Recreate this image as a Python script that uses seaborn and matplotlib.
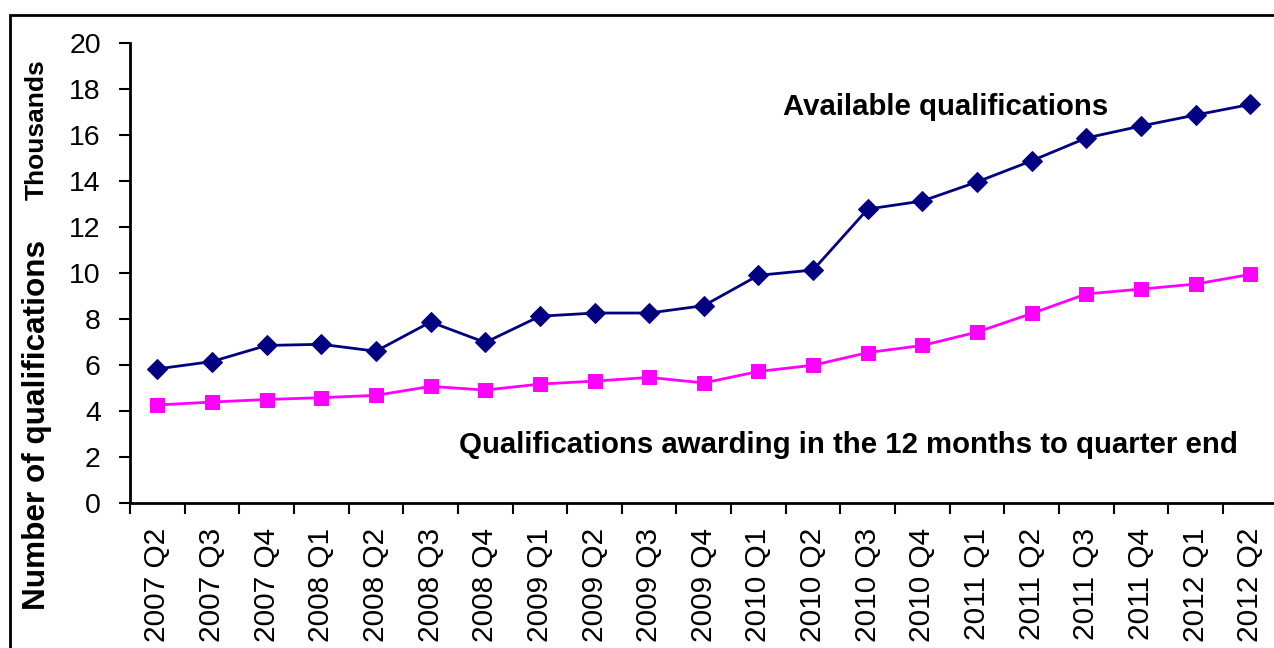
import matplotlib
matplotlib.use("Agg")
import matplotlib.pyplot as plt
import seaborn as sns
import pandas as pd
from matplotlib.patches import Rectangle
from matplotlib.ticker import FixedLocator, NullFormatter

quarters = ["2007 Q2", "2007 Q3", "2007 Q4", "2008 Q1", "2008 Q2", "2008 Q3", "2008 Q4",
            "2009 Q1", "2009 Q2", "2009 Q3", "2009 Q4", "2010 Q1", "2010 Q2", "2010 Q3",
            "2010 Q4", "2011 Q1", "2011 Q2", "2011 Q3", "2011 Q4", "2012 Q1", "2012 Q2"]
available = [5.83, 6.15, 6.85, 6.9, 6.6, 7.87, 6.98, 8.12, 8.26, 8.26, 8.58, 9.9, 10.13,
             12.78, 13.13, 13.96, 14.88, 15.87, 16.39, 16.87, 17.33]
awarding = [4.26, 4.39, 4.5, 4.58, 4.68, 5.07, 4.91, 5.17, 5.3, 5.46, 5.22, 5.72, 5.99,
            6.54, 6.85, 7.43, 8.24, 9.09, 9.3, 9.52, 9.94]
yticks = [0, 2, 4, 6, 8, 10, 12, 14, 16, 18, 20]

sns.set_theme(style="white")
plt.rcParams["font.family"] = ["Liberation Sans", "DejaVu Sans"]
plt.rcParams["text.color"] = "black"
plt.rcParams["xtick.color"] = "black"
plt.rcParams["ytick.color"] = "black"
plt.rcParams["axes.labelcolor"] = "black"

fig = plt.figure(figsize=(12.74, 6.48), dpi=100)
W, H = 1274, 648
ax = fig.add_axes([130 / W, (H - 503) / H, 21 * 54.65 / W, (503 - 43) / H])

df_a = pd.DataFrame({"quarter": quarters, "value": available})
df_b = pd.DataFrame({"quarter": quarters, "value": awarding})
sns.lineplot(data=df_a, x="quarter", y="value", ax=ax, color="#000080", lw=2,
             marker="D", markersize=10.5, markeredgecolor="#000080", sort=False)
sns.lineplot(data=df_b, x="quarter", y="value", ax=ax, color="#FF00FF", lw=2,
             marker="s", markersize=10.5, markeredgecolor="#FF00FF", sort=False)

ax.set_xlim(-0.5, len(quarters) - 0.5)
ax.set_ylim(0, 20)
ax.set_yticks(yticks)
ax.set_yticklabels([str(v) for v in yticks], fontsize=20.5, color="black")
ax.set_xticks(range(len(quarters)))
ax.set_xticklabels(quarters, rotation=90, fontsize=21.5, color="black")
ax.xaxis.set_minor_locator(FixedLocator([i - 0.5 for i in range(len(quarters) + 1)]))
ax.xaxis.set_minor_formatter(NullFormatter())
ax.tick_params(axis="x", which="major", length=0, pad=18)
ax.tick_params(axis="x", which="minor", length=8, width=1.5, color="black", direction="out", bottom=True)
ax.tick_params(axis="y", which="major", length=8, width=1.5, color="black", direction="out", left=True, pad=13)
ax.set_xlabel("")
ax.set_ylabel("")
for s in ["top", "right"]:
    ax.spines[s].set_visible(False)
for s in ["left", "bottom"]:
    ax.spines[s].set_color("black")
    ax.spines[s].set_linewidth(2)
ax.grid(False)

ax.text(14.43, 17.2, "Available qualifications", ha="center", va="center",
        fontsize=21.2, fontweight="bold", color="black")
ax.text(12.64, 2.52, "Qualifications awarding in the 12 months to quarter end",
        ha="center", va="center", fontsize=21.2, fontweight="bold", color="black")

fig.text(37 / W, (H - 425) / H, "Number of qualifications", rotation=90,
         ha="center", va="center", fontsize=22.7, fontweight="bold", color="black")
fig.text(37 / W, (H - 130) / H, "Thousands", rotation=90,
         ha="center", va="center", fontsize=19, fontweight="bold", color="black")

fig.patches.append(Rectangle((10 / W, -0.1), 1.2, (H - 15) / H + 0.1,
                             transform=fig.transFigure, fill=False,
                             edgecolor="black", linewidth=2, clip_on=False))

fig.savefig("out.png", dpi=100)
